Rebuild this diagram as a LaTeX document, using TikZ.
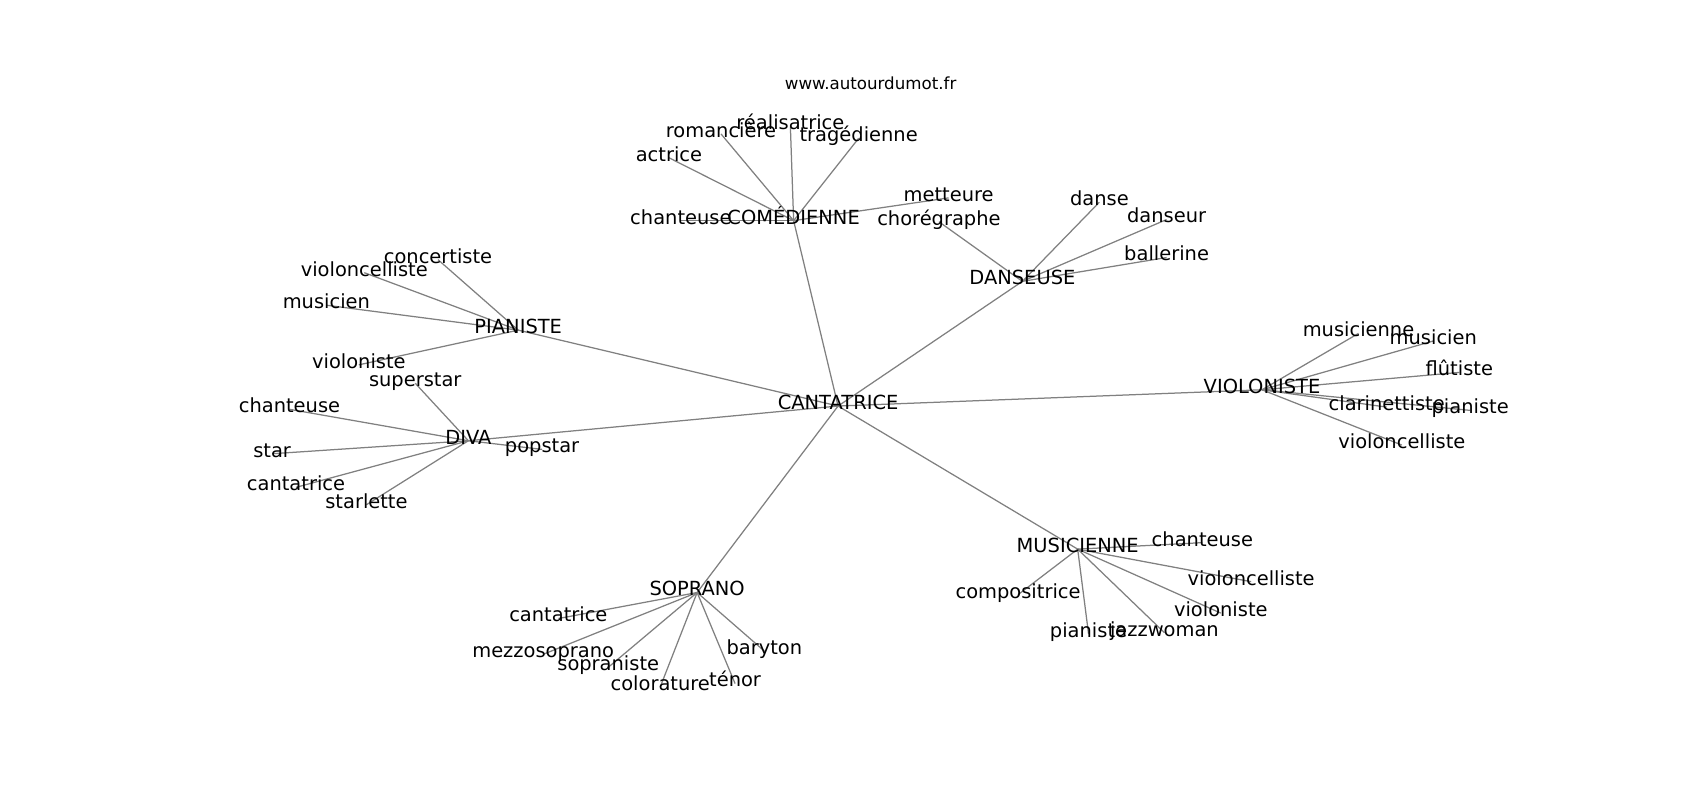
\documentclass[tikz,border=0pt]{standalone}
\usepackage{fontspec}
\setmainfont{DejaVu Sans}
\usetikzlibrary{backgrounds}
\begin{document}
\begin{tikzpicture}[x=0.7806pt, y=-0.7806pt, font=\fontsize{14}{16}\selectfont]
  \tikzstyle{word} = [inner sep=0pt, text height=0.73em, text depth=0.24em, color=black]
  \tikzstyle{link} = [draw=gray, line width=0.9pt]
  \useasboundingbox (0,0) rectangle (1568,738);
  \begin{scope}[shift={(0,4.5)}]
  \node (site) [word, font=\fontsize{12}{14}\selectfont] at (803,75) {www.autourdumot.fr};
  % hubs
  \foreach \n/\x/\y/\t in {cantatrice/773/370/CANTATRICE, comedienne/732/199/COMÉDIENNE,
      danseuse/943/255/DANSEUSE, pianiste/478/300/PIANISTE, diva/432/402/DIVA,
      violoniste/1164/355/VIOLONISTE, musicienne/994/502/MUSICIENNE, soprano/643/542/SOPRANO}
    \node (\n) [word] at (\x,\y) {\t};
  % leaves
  \foreach \n/\x/\y/\t in {
      com-chanteuse/628/199/chanteuse, com-actrice/617/141/actrice,
      com-romanciere/665/119/romancière, com-realisatrice/729/112/réalisatrice,
      com-tragedienne/792/123/tragédienne, com-metteure/875/178/metteure,
      dan-choregraphe/866/200/chorégraphe, dan-danse/1014/182/danse,
      dan-danseur/1076/198/danseur, dan-ballerine/1076/233/ballerine,
      pia-concertiste/404/235/concertiste, pia-violoncelliste/336/247/violoncelliste,
      pia-musicien/301/277/musicien, pia-violoniste/331/332/violoniste,
      div-superstar/383/349/superstar, div-chanteuse/267/373/chanteuse,
      div-star/251/414/star, div-cantatrice/273/445/cantatrice,
      div-starlette/338/461/starlette, div-popstar/500/410/popstar,
      vio-musicienne/1253/303/musicienne, vio-musicien/1322/310/musicien,
      vio-flutiste/1346/339/flûtiste, vio-clarinettiste/1279/371/clarinettiste,
      vio-pianiste/1356/374/pianiste, vio-violoncelliste/1293/406/violoncelliste,
      mus-chanteuse/1109/496/chanteuse, mus-violoncelliste/1154/532/violoncelliste,
      mus-compositrice/939/544/compositrice, mus-violoniste/1126/561/violoniste,
      mus-pianiste/1004/580/pianiste, mus-jazzwoman/1074/579/jazzwoman,
      sop-cantatrice/515/566/cantatrice, sop-mezzosoprano/501/599/mezzosoprano,
      sop-sopraniste/561/611/sopraniste, sop-colorature/609/629/colorature,
      sop-tenor/678/626/ténor, sop-baryton/705/596/baryton}
    \node (\n) [word] at (\x,\y) {\t};
  \end{scope}
  \begin{scope}[on background layer]
    \foreach \h in {comedienne,danseuse,pianiste,diva,violoniste,musicienne,soprano}
      \draw[link] (cantatrice.center) -- (\h.center);
    \foreach \l in {chanteuse,actrice,romanciere,realisatrice,tragedienne,metteure}
      \draw[link] (comedienne.center) -- (com-\l.center);
    \foreach \l in {choregraphe,danse,danseur,ballerine}
      \draw[link] (danseuse.center) -- (dan-\l.center);
    \foreach \l in {concertiste,violoncelliste,musicien,violoniste}
      \draw[link] (pianiste.center) -- (pia-\l.center);
    \foreach \l in {superstar,chanteuse,star,cantatrice,starlette,popstar}
      \draw[link] (diva.center) -- (div-\l.center);
    \foreach \l in {musicienne,musicien,flutiste,clarinettiste,pianiste,violoncelliste}
      \draw[link] (violoniste.center) -- (vio-\l.center);
    \foreach \l in {chanteuse,violoncelliste,compositrice,violoniste,pianiste,jazzwoman}
      \draw[link] (musicienne.center) -- (mus-\l.center);
    \foreach \l in {cantatrice,mezzosoprano,sopraniste,colorature,tenor,baryton}
      \draw[link] (soprano.center) -- (sop-\l.center);
  \end{scope}
\end{tikzpicture}
\end{document}
